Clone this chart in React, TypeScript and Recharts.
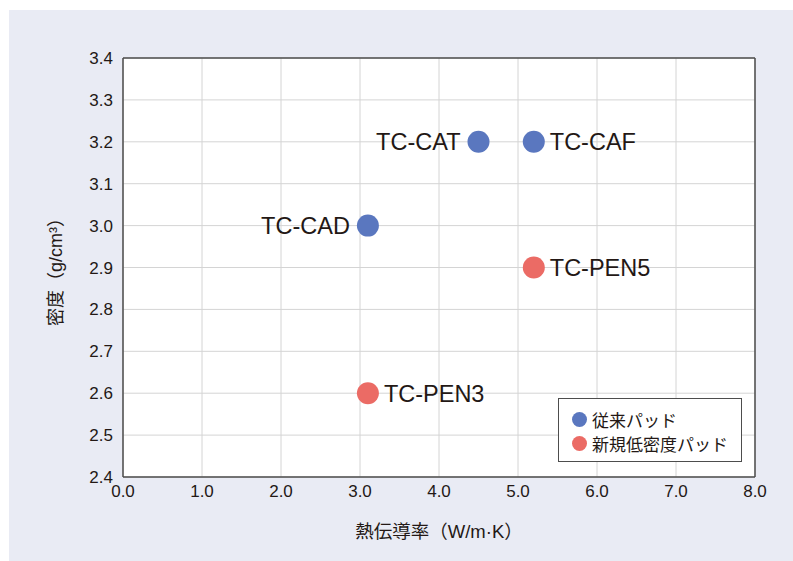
import React from "react";
import {
  ScatterChart,
  Scatter,
  XAxis,
  YAxis,
  CartesianGrid,
  ReferenceLine,
} from "recharts";

const conventionalName = "従来パッド";
const lowDensityName = "新規低密度パッド";

const conventional = [
  { x: 4.5, y: 3.2, name: "TC-CAT" },
  { x: 5.2, y: 3.2, name: "TC-CAF" },
  { x: 3.1, y: 3.0, name: "TC-CAD" },
];
const lowDensity = [
  { x: 5.2, y: 2.9, name: "TC-PEN5" },
  { x: 3.1, y: 2.6, name: "TC-PEN3" },
];
const leftLabeled = ["TC-CAT", "TC-CAD"];

const xTicks = [0, 1, 2, 3, 4, 5, 6, 7, 8];
const yTicks = [2.4, 2.5, 2.6, 2.7, 2.8, 2.9, 3.0, 3.1, 3.2, 3.3, 3.4];

const xTitle = "熱伝導率（W/m·K）";
const yTitle = "密度（g/cm³）";

const BLUE = "#5a77bf";
const RED = "#eb6b65";
const INK = "#231815";
const FONT = '"Liberation Sans", Arial, "Noto Sans CJK JP", sans-serif';

const makeShape = (color: string) => (props: any) => {
  const { cx, cy, payload } = props;
  const left = leftLabeled.includes(payload.name);
  return (
    <g>
      <circle cx={cx} cy={cy} r={11} fill={color} />
      <text
        x={left ? cx - 18 : cx + 16}
        y={cy}
        dy="0.36em"
        textAnchor={left ? "end" : "start"}
        fontSize={23.5}
        fill={INK}
        fontFamily={FONT}
      >
        {payload.name}
      </text>
    </g>
  );
};

const legendItems = [
  { name: conventionalName, color: BLUE },
  { name: lowDensityName, color: RED },
];

const LegendBox = () => (
  <div
    style={{
      position: "absolute",
      left: 558,
      top: 398,
      width: 184,
      height: 64,
      border: "1px solid #4d4d4d",
      background: "#fff",
      boxSizing: "border-box",
      padding: "8px 0 0 13px",
      fontFamily: FONT,
      fontSize: 17,
      color: INK,
    }}
  >
    {legendItems.map((it) => (
      <div
        key={it.name}
        style={{ display: "flex", alignItems: "center", height: 24 }}
      >
        <span
          style={{
            display: "inline-block",
            width: 15,
            height: 15,
            borderRadius: "50%",
            background: it.color,
            marginRight: 5,
          }}
        />
        <span>{it.name}</span>
      </div>
    ))}
  </div>
);

export default function App() {
  return (
    <div
      style={{
        position: "absolute",
        left: 0,
        top: 0,
        width: 793,
        height: 561,
        background: "#ffffff",
        overflow: "hidden",
      }}
    >
      <div
        style={{
          position: "absolute",
          left: 9,
          top: 10,
          width: 784,
          height: 551,
          background: "#e9ebf4",
        }}
      />
      <div style={{ position: "absolute", left: 0, top: 0 }}>
        <ScatterChart
          width={793}
          height={561}
          margin={{ top: 58, right: 38, bottom: 0, left: 0 }}
          style={{ fontFamily: FONT }}
        >
          <CartesianGrid
            stroke="#d4d4d4"
            strokeWidth={1}
            fill="#ffffff"
            fillOpacity={1}
          />
          <XAxis
            type="number"
            dataKey="x"
            domain={[0, 8]}
            ticks={xTicks}
            tickFormatter={(v: number) => v.toFixed(1)}
            height={84}
            tickLine={false}
            tickSize={0}
            tickMargin={8}
            axisLine={{ stroke: "#4d4d4d", strokeWidth: 1.5 }}
            tick={{ fill: INK, fontSize: 17, fontFamily: FONT }}
            allowDataOverflow
            label={{
              value: xTitle,
              position: "center",
              dy: 12,
              fill: INK,
              fontSize: 18.5,
              fontFamily: FONT,
            }}
          />
          <YAxis
            type="number"
            dataKey="y"
            domain={[2.4, 3.4]}
            ticks={yTicks}
            tickFormatter={(v: number) => v.toFixed(1)}
            width={123}
            tickLine={false}
            tickSize={0}
            tickMargin={10}
            axisLine={{ stroke: "#4d4d4d", strokeWidth: 1.5 }}
            tick={{ fill: INK, fontSize: 17, fontFamily: FONT }}
            allowDataOverflow
            label={{
              value: yTitle,
              angle: -90,
              position: "center",
              dx: -6,
              fill: INK,
              fontSize: 18,
              fontFamily: FONT,
            }}
          />
          <ReferenceLine y={3.4} stroke="#4d4d4d" strokeWidth={1.5} />
          <ReferenceLine x={8} stroke="#4d4d4d" strokeWidth={1.5} />
          <Scatter
            name={conventionalName}
            data={conventional}
            fill={BLUE}
            shape={makeShape(BLUE)}
            isAnimationActive={false}
          />
          <Scatter
            name={lowDensityName}
            data={lowDensity}
            fill={RED}
            shape={makeShape(RED)}
            isAnimationActive={false}
          />
        </ScatterChart>
      </div>
      <LegendBox />
    </div>
  );
}
